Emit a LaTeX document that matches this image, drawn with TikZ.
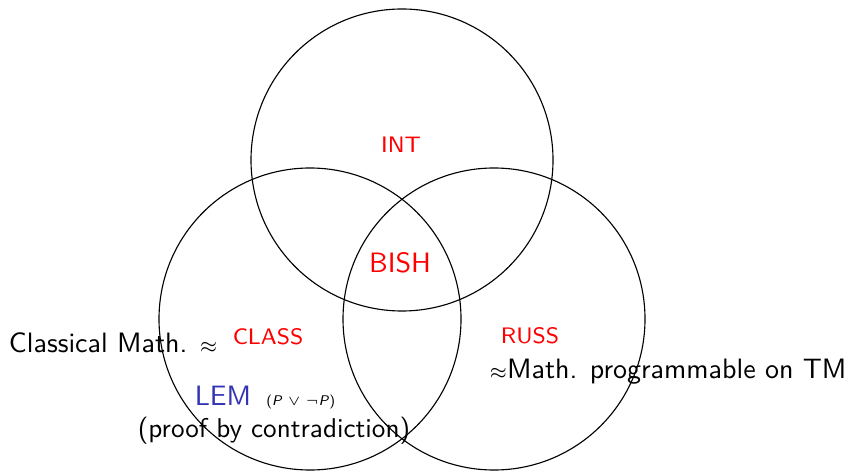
\documentclass[tikz,border=0pt]{standalone}
\usepackage{tikz}
\usepackage{xcolor}
\usetikzlibrary{positioning}
\definecolor{setred}{RGB}{255, 0, 0}
\definecolor{lemblue}{RGB}{51, 51, 179}
\newcommand{\smallapprox}{$\scriptstyle\approx$}

\begin{document}
\begin{tikzpicture}[
    x=0.357pt, y=0.357pt,
    setcircle/.style={
        draw=black,
        thin
    },
    setlbl/.style={font=\sffamily\footnotesize, text=setred, inner sep=0pt, anchor=base},
    bigsetlbl/.style={font=\sffamily, text=setred, inner sep=0pt, anchor=base},
    txt/.style={font=\sffamily, inner sep=0pt},
    lemlbl/.style={font=\sffamily, text=lemblue, inner sep=0pt, anchor=base}
]
\useasboundingbox (0,0) rectangle (854,470);

% === Circles ===
\draw[setcircle] (402,310) circle (151);
\draw[setcircle] (310,151) circle (151);
\draw[setcircle] (494,151) circle (151);

% === Set labels ===
\node[setlbl] (int) at (401,317) {INT};
\node[bigsetlbl] (bish) at (400,197) {BISH};
\node[setlbl] (class) at (268,126) {CLASS};
\node[setlbl] (russ) at (530,127) {RUSS};

% === Descriptions ===
\node[txt, anchor=base east] (classmath) at (218,118) {Classical Math. \smallapprox};
\node[txt, anchor=base] (russmath) at (668,92) {\smallapprox Math. programmable on TM};

% === LEM ===
\node[lemlbl] (lem) at (223,65) {LEM};
\node[txt, font=\sffamily\tiny, base right=5pt of lem] (lemformula) {(\textit{P} $\vee$ $\neg$\textit{P})};
\node[txt, font=\sffamily\fontsize{9.7}{12}\selectfont, anchor=base] (proof) at (274,33) {(proof by contradiction)};

\end{tikzpicture}
\end{document}
